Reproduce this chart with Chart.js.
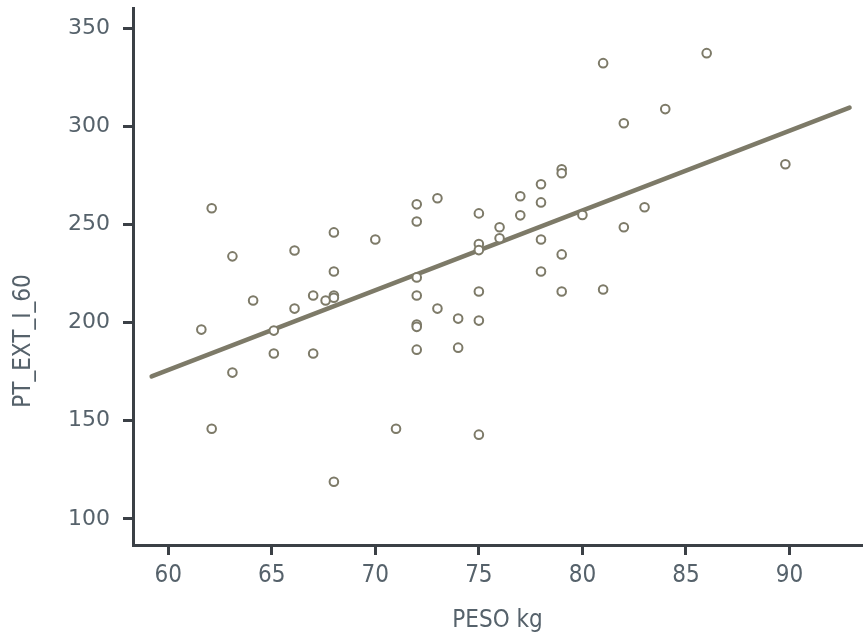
<!DOCTYPE html>
<html>
<head>
<meta charset="utf-8">
<script src="https://cdn.jsdelivr.net/npm/chart.js@4.4.1/dist/chart.umd.min.js"></script>
<style>
  html, body { margin: 0; padding: 0; background: #fff; }
  #wrap { width: 863px; height: 639px; }
</style>
</head>
<body>
<div id="wrap"><canvas id="grafico"></canvas></div>
<script>
// PESO kg vs PT_EXT_I_60
const peso = [
  61.6, 62.1, 62.1, 63.1, 63.1, 64.1, 65.1, 65.1, 66.1, 66.1,
  67.0, 67.0, 67.6, 68.0, 68.0, 68.0, 68.0, 68.0, 70.0, 71.0,
  72.0, 72.0, 72.0, 72.0, 72.0, 72.0, 72.0, 73.0, 73.0, 74.0,
  74.0, 75.0, 75.0, 75.0, 75.0, 75.0, 75.0, 76.0, 76.0, 77.0,
  77.0, 78.0, 78.0, 78.0, 78.0, 79.0, 79.0, 79.0, 79.0, 80.0,
  81.0, 81.0, 82.0, 82.0, 83.0, 84.0, 86.0, 89.8
];
const ptExt = [
  196.4, 258.2, 145.9, 233.7, 174.5, 211.2, 195.9, 184.2, 236.7, 207.1,
  213.8, 184.2, 211.2, 245.9, 226.0, 213.8, 212.6, 118.9, 242.3, 145.9,
  260.2, 251.5, 223.0, 213.8, 199.0, 197.8, 186.2, 263.3, 207.1, 202.0,
  187.2, 255.6, 240.0, 236.9, 215.8, 201.0, 142.9, 248.5, 242.9, 264.3,
  254.6, 270.4, 261.2, 242.3, 226.0, 278.1, 276.0, 234.7, 215.8, 254.8,
  332.1, 216.8, 301.5, 248.5, 258.7, 308.7, 337.2, 280.6
];

// reta de regressão (extremos)
const retaX = [59.2, 92.9];
const retaY = [172.6, 309.5];

const xTicks = [60, 65, 70, 75, 80, 85, 90];
const yTicks = [100, 150, 200, 250, 300, 350];

const corMarca = '#7d7a68';
const corEixo = '#3b4046';
const corTexto = '#56626b';
const fonteEstreita = '"DejaVu Sans Condensed", "DejaVu Sans"';

const pontos = peso.map((x, i) => ({ x: x, y: ptExt[i] }));
const reta = retaX.map((x, i) => ({ x: x, y: retaY[i] }));

// título do eixo Y desenhado à mão
const tituloY = {
  id: 'tituloY',
  afterDraw(chart) {
    const ctx = chart.ctx;
    ctx.save();
    ctx.translate(24, 341);
    ctx.rotate(-Math.PI / 2);
    ctx.fillStyle = corTexto;
    ctx.font = '24px ' + fonteEstreita;
    ctx.textAlign = 'center';
    ctx.textBaseline = 'middle';
    ctx.fillText('PT_EXT_I_60', 0, 0);
    ctx.restore();
  }
};

new Chart(document.getElementById('grafico'), {
  type: 'scatter',
  data: {
    datasets: [
      {
        label: 'reta',
        type: 'line',
        data: reta,
        borderColor: corMarca,
        borderWidth: 4.5,
        pointRadius: 0,
        borderCapStyle: 'round',
        order: 2
      },
      {
        label: 'PT_EXT_I_60',
        data: pontos,
        pointRadius: 4.3,
        pointBorderWidth: 2,
        pointBackgroundColor: '#ffffff',
        pointBorderColor: corMarca,
        order: 1
      }
    ]
  },
  options: {
    responsive: true,
    maintainAspectRatio: false,
    animation: false,
    layout: { autoPadding: false, padding: { top: 8, right: 1, left: 0, bottom: 0 } },
    plugins: {
      legend: { display: false },
      tooltip: { enabled: false }
    },
    scales: {
      x: {
        type: 'linear',
        min: 58.3,
        max: 93.5,
        afterBuildTicks: s => { s.ticks = xTicks.map(v => ({ value: v })); },
        afterFit: s => { s.height = 94; s.paddingLeft = 0; s.paddingRight = 0; },
        border: { display: true, color: corEixo, width: 3 },
        grid: { drawOnChartArea: false, drawTicks: true, tickLength: 10, color: corEixo, lineWidth: 3 },
        ticks: { color: corTexto, padding: 6, font: { family: fonteEstreita, size: 24 } },
        title: {
          display: true,
          text: 'PESO kg',
          color: corTexto,
          padding: { top: 1, bottom: 4 },
          font: { family: fonteEstreita, size: 24 }
        }
      },
      y: {
        type: 'linear',
        min: 86.7,
        max: 360.2,
        afterBuildTicks: s => { s.ticks = yTicks.map(v => ({ value: v })); },
        afterFit: s => { s.width = 133; s.paddingTop = 0; s.paddingBottom = 0; },
        border: { display: true, color: corEixo, width: 3 },
        grid: { drawOnChartArea: false, drawTicks: true, tickLength: 10, color: corEixo, lineWidth: 3 },
        ticks: { color: corTexto, padding: 13, font: { family: '"DejaVu Sans"', size: 22 } }
      }
    }
  },
  plugins: [tituloY]
});
</script>
</body>
</html>
